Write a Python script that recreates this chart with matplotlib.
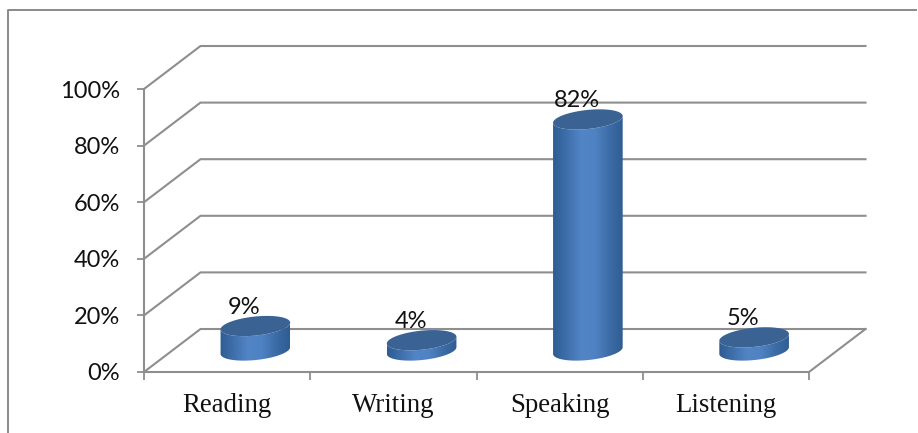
import numpy as np
import matplotlib
matplotlib.use("Agg")
import matplotlib.pyplot as plt
from matplotlib.path import Path
from matplotlib.patches import PathPatch
from matplotlib.transforms import IdentityTransform
from matplotlib.lines import Line2D
from matplotlib.colors import LinearSegmentedColormap

categories = ["Reading", "Writing", "Speaking", "Listening"]
values = [9, 4, 82, 5]
value_labels = ["9%", "4%", "82%", "5%"]
y_ticks = [0, 20, 40, 60, 80, 100]

W, H = 918, 433
fig = plt.figure(figsize=(W / 100, H / 100), dpi=100)
L, R, T, B = 144, 809, 89, 372
ax = fig.add_axes([L / W, 1 - B / H, (R - L) / W, (B - T) / H])
ax.set_xlim(0, 4)
ax.set_ylim(0, 100)
ax.patch.set_visible(False)
GREY = "#8e8e8e"
DX, DY = 56.5, 43  # depth of the 3D box in pixels
idt = IdentityTransform()

# outer frame
fig.add_artist(Line2D([8 / W, 8 / W, 916 / W], [0, 1 - 10 / H, 1 - 10 / H], color="#8a8a8a", lw=1.4, transform=fig.transFigure))

# walls
for t in y_ticks:
    x0, y0 = ax.transData.transform((0, t))
    x1, _ = ax.transData.transform((4, t))
    xs = [x0, x0 + DX, x1 + DX]
    ys = [y0, y0 + DY, y0 + DY]
    ax.add_line(Line2D(xs, ys, transform=idt, color=GREY, lw=1.5, clip_on=False, solid_joinstyle="miter", zorder=1))
# floor front edge and right edge
x0, y0 = ax.transData.transform((0, 0))
x1, _ = ax.transData.transform((4, 0))
ax.add_line(Line2D([x0, x1, x1 + DX], [y0, y0, y0 + DY], transform=idt, color=GREY, lw=1.5, clip_on=False, zorder=1))

for s in ["top", "right", "bottom"]:
    ax.spines[s].set_visible(False)
ax.spines["left"].set_color(GREY)
ax.spines["left"].set_linewidth(1.5)
ax.set_yticks(y_ticks)
ax.set_yticklabels([f"{t}%" for t in y_ticks], fontfamily="Lato", fontsize=17, color="#111111")
ax.tick_params(axis="y", length=5, width=1.3, color=GREY, pad=12.5)
ax.set_xticks(range(5))
ax.set_xticklabels([""] * 5)
ax.tick_params(axis="x", length=6, width=1.3, color=GREY)

cmap = LinearSegmentedColormap.from_list("cyl", ["#2e5c92", "#3f70ac", "#5285c6", "#4f82c3", "#3c6ca6", "#2e5c92"])
TOP = "#3a6394"
A, Bb, ROT = 35.0, 9.5, np.deg2rad(6)
grad = np.linspace(0, 1, 256).reshape(1, -1)

def ellipse_pts(cx, cy, t):
    ex = A * np.cos(t)
    ey = Bb * np.sin(t)
    return cx + ex * np.cos(ROT) - ey * np.sin(ROT), cy + ex * np.sin(ROT) + ey * np.cos(ROT)

for i, (cat, v, lab) in enumerate(zip(categories, values, value_labels)):
    xb, yb = ax.transData.transform((i + 0.5, 0))
    cx = xb + DX / 2
    cy0 = yb + DY / 2 + 0
    _, ytop = ax.transData.transform((i + 0.5, v))
    cy1 = ytop + DY / 2 - 1
    # body outline: bottom half of base, up to top ellipse
    t_low = np.linspace(np.pi, 2 * np.pi, 60)
    bx, by = ellipse_pts(cx, cy0, t_low)
    t_up = np.linspace(2 * np.pi, np.pi, 60)
    tx, ty = ellipse_pts(cx, cy1, t_up)
    poly = np.column_stack([np.r_[bx, tx], np.r_[by, ty]])
    path = Path(np.vstack([poly, poly[0]]), closed=True)
    x_lo, _ = ax.transData.inverted().transform((cx - A, cy0))
    x_hi, _ = ax.transData.inverted().transform((cx + A, cy0))
    im = ax.imshow(grad, cmap=cmap, extent=[x_lo, x_hi, -15, v + 15], aspect="auto", zorder=3, clip_on=True)
    im.set_clip_path(PathPatch(path, transform=idt))
    # top ellipse
    t_all = np.linspace(0, 2 * np.pi, 120)
    ex, ey = ellipse_pts(cx, cy1, t_all)
    ax.add_patch(PathPatch(Path(np.column_stack([ex, ey])), transform=idt, facecolor=TOP, edgecolor="none", zorder=4, clip_on=False))
    # value label
    ax.text(cx - 11, cy1 + Bb + 3, lab, transform=idt, ha="center", va="baseline", fontfamily="Lato", fontsize=17, color="#111111", zorder=5)
    # category label
    ax.text(i + 0.5, -7.4, cat, ha="center", va="top", fontfamily="Liberation Serif", fontsize=19.4, color="#111111", clip_on=False, zorder=5)

ax.set_xlim(0, 4)
ax.set_ylim(0, 100)
fig.savefig("out.png", dpi=100)
